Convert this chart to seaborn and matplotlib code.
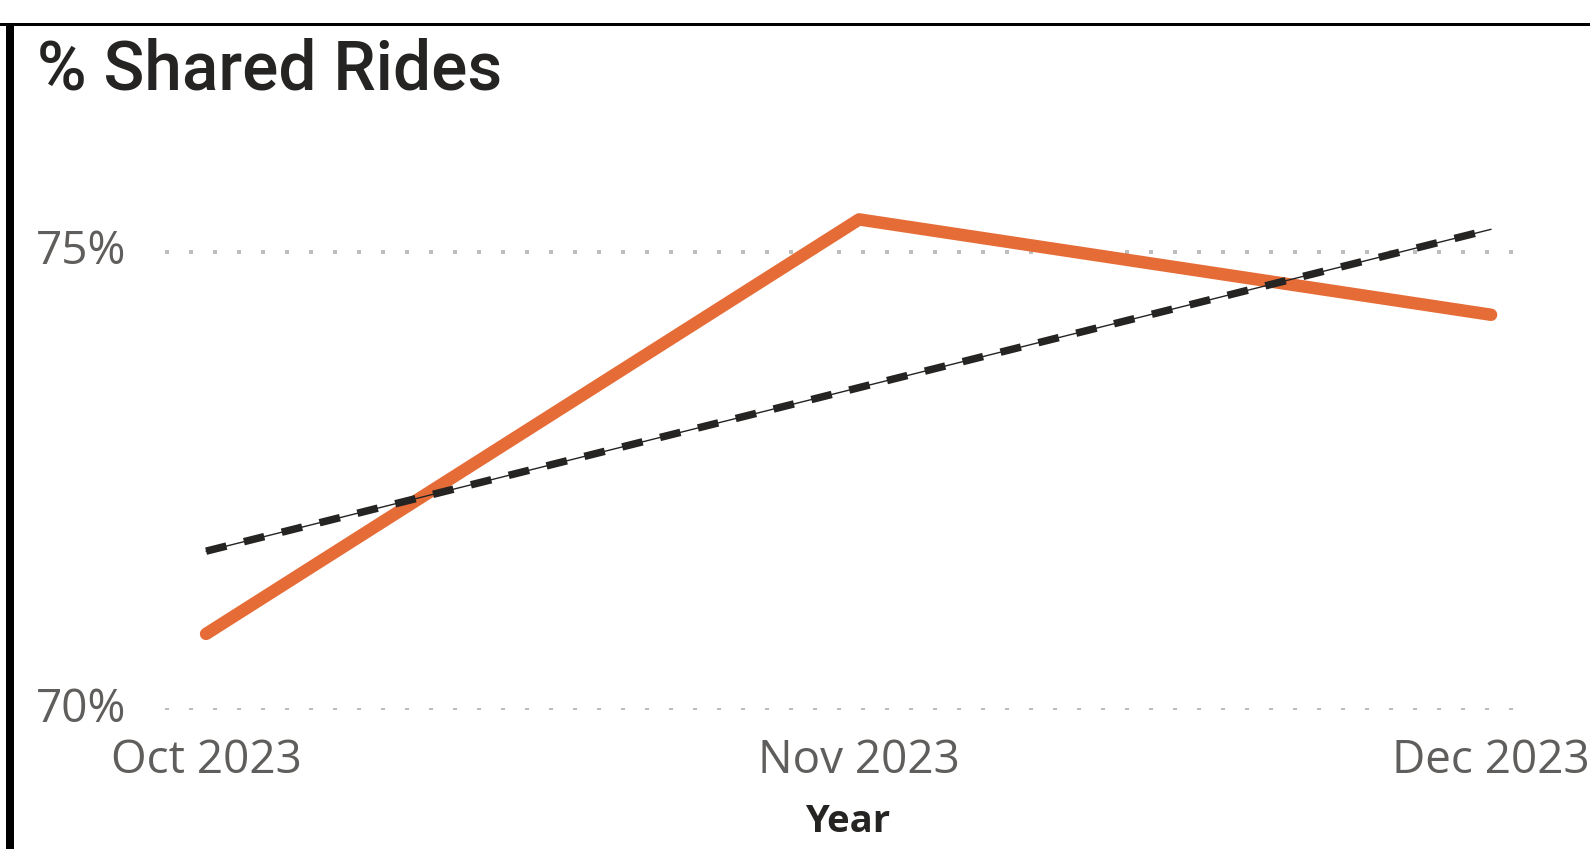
import numpy as np
import pandas as pd
import matplotlib
matplotlib.use("Agg")
import matplotlib.pyplot as plt
import matplotlib.dates as mdates
import matplotlib.transforms as mtransforms
from matplotlib.lines import Line2D
import seaborn as sns

# Monthly share of rides that were shared (%)
months = ["2023-10-01", "2023-11-01", "2023-12-01"]
month_labels = ["Oct 2023", "Nov 2023", "Dec 2023"]
shared_pct = [70.83, 75.35, 74.31]
y_ticks = [70, 75]
y_tick_labels = ["70%", "75%"]

W, H, DPI = 1590, 849, 100
sns.set_theme(style="white")
plt.rcParams["font.family"] = ["Open Sans", "DejaVu Sans"]

df = pd.DataFrame({"Year": pd.to_datetime(months), "Shared": shared_pct})

# Least-squares trend over the date axis
days = (df["Year"] - df["Year"].iloc[0]).dt.days.to_numpy(dtype=float)
slope, intercept = np.polyfit(days, df["Shared"].to_numpy(), 1)
trend = pd.DataFrame({"Year": df["Year"].iloc[[0, -1]],
                      "Trend": intercept + slope * days[[0, -1]]})

fig = plt.figure(figsize=(W / DPI, H / DPI), dpi=DPI)
fig.patch.set_facecolor("white")

ax_left, ax_right, ax_bottom, ax_top = 165, 1513, 710, 114
ax = fig.add_axes([ax_left / W, 1 - ax_bottom / H,
                   (ax_right - ax_left) / W, (ax_bottom - ax_top) / H])

px = 72 / DPI  # points per pixel

sns.lineplot(data=df, x="Year", y="Shared", ax=ax, color="#E66C37",
             linewidth=12.5 * px, solid_capstyle="round", zorder=3)
sns.lineplot(data=trend, x="Year", y="Trend", ax=ax, color="#252423",
             linewidth=1.4 * px, zorder=4)
sns.lineplot(data=trend, x="Year", y="Trend", ax=ax, color="#252423",
             linewidth=7.5 * px, linestyle=(0, (2.8, 2.4)),
             dash_capstyle="butt", zorder=4)

x0 = mdates.date2num(df["Year"].iloc[0])
x1 = mdates.date2num(df["Year"].iloc[-1])
ax.set_xlim(x0 - 1.95, x1 + 1.04)
ax.set_ylim(70, 70 + (ax_bottom - ax_top) / 91.7)

ax.set_yticks(y_ticks)
ax.set_yticklabels(y_tick_labels)
ax.set_xticks(mdates.date2num(df["Year"]))
ax.set_xticklabels(month_labels)
ax.tick_params(axis="both", length=0, labelsize=33, labelcolor="#605E5C")
ax.tick_params(axis="y", pad=28)
ax.tick_params(axis="x", pad=20)
for lab in ax.get_yticklabels():
    lab.set_verticalalignment("center")

ax.yaxis.grid(True, color="#C0BEBC", linewidth=4 * px,
              linestyle=(0, (1, 5)), dash_capstyle="butt")
ax.xaxis.grid(False)
for s in ax.spines.values():
    s.set_visible(False)

ax.set_ylabel("")
ax.set_xlabel("Year", fontsize=27.5, fontweight="bold", color="#252423",
              labelpad=14)
xlab = ax.xaxis.label
xlab.set_transform(xlab.get_transform() +
                   mtransforms.ScaledTranslation(9 / DPI, 0, fig.dpi_scale_trans))

# Card frame: top rule and left rule
fig.add_artist(Line2D([0, 1], [1 - 23.5 / H, 1 - 23.5 / H],
                      transform=fig.transFigure, color="black",
                      linewidth=3 * px))
fig.add_artist(Line2D([10 / W, 10 / W], [0, 1 - 25 / H],
                      transform=fig.transFigure, color="black",
                      linewidth=8 * px, solid_capstyle="butt"))

fig.text(37 / W, 1 - 90 / H, "% Shared Rides", fontsize=48.7,
         family=["Roboto", "DejaVu Sans"], fontweight="medium",
         color="#252423", ha="left", va="baseline")

fig.savefig("out.png", dpi=DPI, facecolor="white")
